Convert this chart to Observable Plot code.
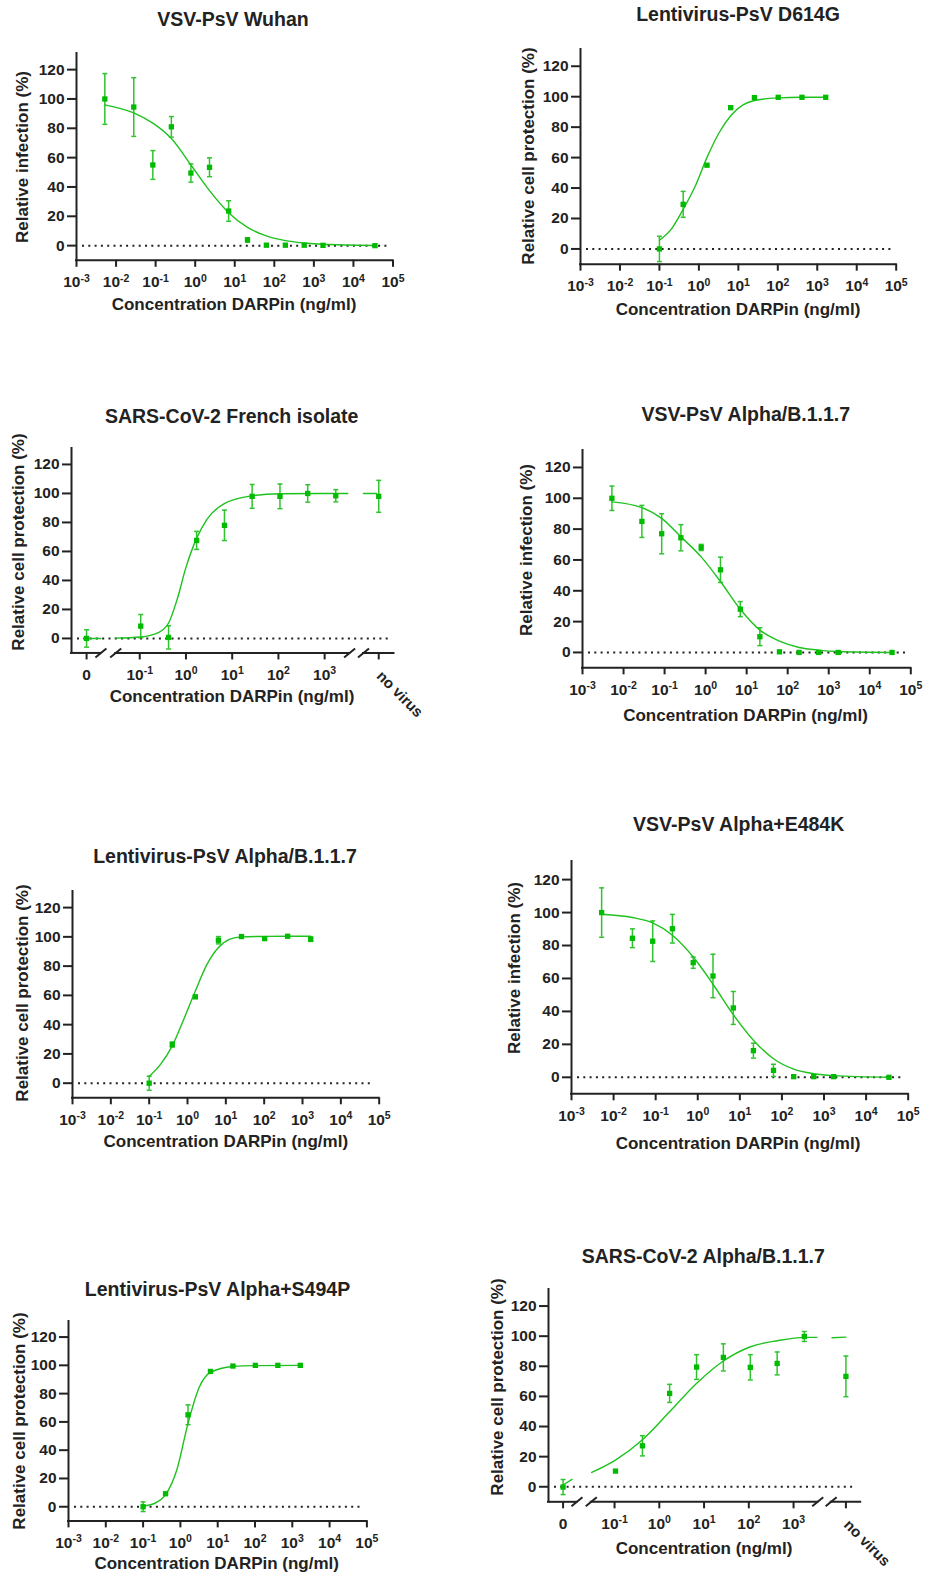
<!DOCTYPE html>
<html><head><meta charset="utf-8">
<script src="https://cdn.jsdelivr.net/npm/d3@7"></script>
<script src="https://cdn.jsdelivr.net/npm/@observablehq/plot@0.6"></script>
<style>
body{margin:0;background:#fff;}
#chart{position:relative;width:926px;height:1573px;font-family:"Liberation Sans",Arial,sans-serif;font-weight:bold;color:#222;overflow:hidden;}
.pn{position:absolute;}
.lbl{position:absolute;white-space:nowrap;line-height:1;transform:translate(-50%,-50%);}
.title{font-size:19.5px;}
.axl{font-size:17px;}
.ayl{font-size:17px;transform:translate(-50%,-50%) rotate(-90deg);}
</style></head><body><div id="chart"></div>
<script>
// ---------------- data ----------------
const vsvConc   = [0.0052, 0.028, 0.085, 0.25, 0.78, 2.3, 7.0, 21, 63, 190, 570, 1700, 35000];
const lentiConc = [0.1, 0.4, 1.6, 6.4, 25.6, 102.4, 409.6, 1638.4];
const sarsConc  = ["0", 0.105, 0.42, 1.7, 6.8, 27, 108, 430, 1740, "no virus"];

const wuhanMean = [100, 94.5, 55, 81, 49.5, 53.4, 23.6, 3.9, 0.3, 0.3, 0.3, 0.2, 0];
const wuhanSD   = [17.3, 20, 9.8, 7, 6.2, 6.4, 7, 1.5, 0, 0, 0, 0, 0];
const wuhanFit  = [96, 90.5, 83.5, 73, 55, 37.5, 22.5, 12.5, 6.6, 3.4, 1.8, 0.9, 0.1];

const d614gMean = [0, 29.3, 55, 92.8, 99.4, 99.6, 99.6, 99.6];
const d614gSD   = [8.3, 8.5, 0.6, 0.5, 0.5, 0, 0, 0];
const lentiFitConc = [0.1, 0.2, 0.4, 0.8, 1.6, 3.2, 6.4, 12.8, 25.6, 102.4, 409.6, 1638.4];
const d614gFit  = [5.7, 13, 26, 41, 60, 76, 87.5, 94.5, 97.5, 99.2, 99.6, 99.6];

const frenchMean = [0, 8.5, 0.7, 67.6, 78, 98, 98, 100, 98.4, 98];
const frenchSD   = [6, 8, 8, 6.2, 10.5, 8.2, 8.5, 6, 4.2, 11];
const frenchFitLog = [-2.15, -1.84, -1.53, -0.98, -0.6, -0.37, -0.19, 0.0, 0.23, 0.45, 0.83, 1.43, 2.03, 3.5, 3.84, 4.12];
const frenchFitVal = [0, 0, 0.2, 1, 4, 11, 27, 49, 69, 82, 93, 98.4, 99.8, 100, 100, 100];
const frenchFitSeg = [0, 0, 1, 1, 1, 1, 1, 1, 1, 1, 1, 1, 1, 1, 2, 2];

const vsvAlphaMean = [100, 85, 77, 74.4, 68.1, 53.6, 28.1, 10.2, 0.4, 0, 0, 0, 0];
const vsvAlphaSD   = [7.9, 10.4, 13, 8.5, 2, 8.2, 4.9, 5.8, 0, 0, 0, 0, 0];
const vsvAlphaFit  = [97.7, 94, 87, 75, 62, 46, 28, 14.5, 7.3, 3.2, 1.5, 0.6, 0];

const lentiAlphaMean = [0, 26.4, 59, 97.7, 100.2, 98.8, 100.4, 98.4];
const lentiAlphaSD   = [4.8, 1.7, 1, 2.5, 0.5, 1, 0.3, 1.5];
const lentiAlphaFit  = [4.6, 13, 25.5, 43.7, 63, 81, 92.7, 98.4, 100, 100.3, 100.4, 100.4];

const e484kMean = [100, 84.4, 82.6, 90.2, 69.6, 61.5, 42.1, 16.2, 4.2, 0.4, 0.4, 0.4, 0];
const e484kSD   = [15, 5.7, 12.3, 8.7, 3.4, 13.2, 10, 4.5, 3.7, 0, 0, 0, 0];
const e484kFit  = [99, 97, 93.7, 86.2, 73, 56.5, 38, 22.5, 11.3, 5, 2.2, 1, 0];

const s494pMean = [0, 9.2, 65, 95.7, 99.5, 100, 100, 100];
const s494pSD   = [3.4, 0.5, 7, 0.5, 0.3, 0, 0, 0];
const s494pFitConc = [0.1, 0.2, 0.4, 0.8, 1.6, 3.2, 6.4, 25.6, 102.4, 1638.4];
const s494pFit  = [0.5, 2.3, 8.5, 26, 59, 84.5, 95, 99.2, 99.8, 100];

const sarsAlphaMean = [-0.2, 10.4, 27.2, 62, 79.5, 85.9, 79.3, 81.9, 99.8, 73.3];
const sarsAlphaSD   = [5, 0.6, 6.7, 6, 8.2, 9, 8.4, 7.6, 3.3, 13.5];
const sarsAlphaFitLog = [-2.16, -1.95, -1.51, -0.98, -0.37, 0.23, 0.83, 1.44, 2.04, 2.64, 3.25, 3.52, 3.86, 4.17];
const sarsAlphaFitVal = [1.0, 4.9, 9.5, 17.7, 31.4, 49.8, 68.6, 83.7, 93, 97, 99.2, 99.2, 99, 99.4];
const sarsAlphaFitSeg = [0, 0, 1, 1, 1, 1, 1, 1, 1, 1, 1, 1, 2, 2];

// ticks
const yTicks = [0, 20, 40, 60, 80, 100, 120];
const logTicks = [1e-3, 1e-2, 1e-1, 1, 10, 100, 1000, 1e4, 1e5];
const logTickLabels = ["10^-3", "10^-2", "10^-1", "10^0", "10^1", "10^2", "10^3", "10^4", "10^5"];
const brokenTickLabels = ["0", "10^-1", "10^0", "10^1", "10^2", "10^3", "no virus"];

// labels
const titles = ["VSV-PsV Wuhan", "Lentivirus-PsV D614G", "SARS-CoV-2 French isolate", "VSV-PsV Alpha/B.1.1.7",
  "Lentivirus-PsV Alpha/B.1.1.7", "VSV-PsV Alpha+E484K", "Lentivirus-PsV Alpha+S494P", "SARS-CoV-2 Alpha/B.1.1.7"];
const yInf = "Relative infection (%)", yProt = "Relative cell protection (%)";
const xDarpin = "Concentration DARPin (ng/ml)", xPlain = "Concentration (ng/ml)";

// ---------------- scale definitions ----------------
const Y_DOMAIN = [-10, 131];
// broken axis: log10 positions of the "0" and "no virus" slots and of the break marks
const BROKEN = {domain: [-2.476, 4.5], zero: -2.15, noVirus: 4.17, breaks: [-1.84, -1.52, 3.54, 3.84]};
const brokenTicks = [BROKEN.zero, -1, 0, 1, 2, 3, BROKEN.noVirus];
const brokenPos = c => c === "0" ? BROKEN.zero : c === "no virus" ? BROKEN.noVirus : Math.log10(c);

const panels = [
  {title: titles[0], yl: yInf, xl: xDarpin, axis: "log", conc: vsvConc, mean: wuhanMean, sd: wuhanSD, fitX: vsvConc, fitY: wuhanFit},
  {title: titles[1], yl: yProt, xl: xDarpin, axis: "log", conc: lentiConc, mean: d614gMean, sd: d614gSD, fitX: lentiFitConc, fitY: d614gFit},
  {title: titles[2], yl: yProt, xl: xDarpin, axis: "broken", conc: sarsConc, mean: frenchMean, sd: frenchSD, fitX: frenchFitLog, fitY: frenchFitVal, fitZ: frenchFitSeg},
  {title: titles[3], yl: yInf, xl: xDarpin, axis: "log", conc: vsvConc, mean: vsvAlphaMean, sd: vsvAlphaSD, fitX: vsvConc, fitY: vsvAlphaFit},
  {title: titles[4], yl: yProt, xl: xDarpin, axis: "log", conc: lentiConc, mean: lentiAlphaMean, sd: lentiAlphaSD, fitX: lentiFitConc, fitY: lentiAlphaFit},
  {title: titles[5], yl: yInf, xl: xDarpin, axis: "log", conc: vsvConc, mean: e484kMean, sd: e484kSD, fitX: vsvConc, fitY: e484kFit},
  {title: titles[6], yl: yProt, xl: xDarpin, axis: "log", conc: lentiConc, mean: s494pMean, sd: s494pSD, fitX: s494pFitConc, fitY: s494pFit},
  {title: titles[7], yl: yProt, xl: xPlain, axis: "broken", conc: sarsConc, mean: sarsAlphaMean, sd: sarsAlphaSD, fitX: sarsAlphaFitLog, fitY: sarsAlphaFitVal, fitZ: sarsAlphaFitSeg}
];

// ---------------- layout (page pixels) ----------------
const layout = [
  {axisX: 76,    xEnd: 392.5, y0: 245,    y120: 69,     t: [233, 20.3],    yl: [22, 157],     xl: [234, 303.7]},
  {axisX: 580,   xEnd: 895.7, y0: 248,    y120: 65.3,   t: [738, 14.7],    yl: [527.8, 155.8],xl: [738, 308.5]},
  {axisX: 71,    xEnd: 393.5, y0: 638.3,  y120: 464.3,  t: [231.7, 417.3], yl: [17.8, 542.2], xl: [232, 696.3]},
  {axisX: 581.7, xEnd: 910,   y0: 652.3,  y120: 467.3,  t: [745.8, 415],   yl: [525.7, 550],  xl: [745.5, 715]},
  {axisX: 72.3,  xEnd: 379,   y0: 1082.3, y120: 906.7,  t: [225, 856.7],   yl: [21.5, 993.3], xl: [225.8, 1140.7]},
  {axisX: 571,   xEnd: 907.7, y0: 1077,   y120: 879.3,  t: [738.7, 825],   yl: [514.3, 967.7],xl: [738, 1143]},
  {axisX: 68.3,  xEnd: 366.7, y0: 1506.7, y120: 1337,   t: [217.5, 1290],  yl: [19, 1421.3],  xl: [216.7, 1563]},
  {axisX: 548.3, xEnd: 860.5, y0: 1486.7, y120: 1306,   t: [703.3, 1257.3],yl: [496.5, 1386.7],xl: [704, 1548.3]}
];

const GREEN = "#00bb00", CURVE = "#1ec21e", ERR = "#2fc42f", INK = "#222";
const FONT = "'Liberation Sans', Arial, sans-serif";
const slashSym = {draw(c) { c.moveTo(-5.5, 4.5); c.lineTo(5.5, -4.5); }};
const capSym = {draw(c) { c.moveTo(-2.5, 0); c.lineTo(2.5, 0); }};
const NS = "http://www.w3.org/2000/svg";

const chart = document.getElementById("chart");

function build(p, L) {
  const mL = 62, mR = 52, mT = 12, mB = 80;
  const ppu = (L.y0 - L.y120) / 120;
  const yTop = L.y0 - Y_DOMAIN[1] * ppu, yBot = L.y0 - Y_DOMAIN[0] * ppu;
  const W = L.xEnd - L.axisX + mL + mR, H = yBot - yTop + mT + mB;
  const broken = p.axis === "broken";
  const X = broken ? brokenPos : (c => c);
  const pts = p.conc.map((c, i) => ({x: X(c), m: p.mean[i], sd: p.sd[i]}));
  const errs = pts.filter(d => d.sd > 0);
  const caps = errs.flatMap(d => [{x: d.x, y: d.m - d.sd}, {x: d.x, y: d.m + d.sd}]);
  const fit = p.fitX.map((c, i) => ({x: c, y: p.fitY[i], z: p.fitZ ? p.fitZ[i] : 0}));

  const marks = [
    Plot.ruleY([0], {stroke: INK, strokeWidth: 2, strokeDasharray: "2,4.3", insetLeft: 6, insetRight: 5}),
    Plot.ruleX(errs, {x: "x", y1: d => d.m - d.sd, y2: d => d.m + d.sd, stroke: ERR, strokeWidth: 1.5}),
    Plot.dot(caps, {x: "x", y: "y", symbol: capSym, stroke: ERR, fill: "none", strokeWidth: 1.5}),
    Plot.line(fit, {x: "x", y: "y", z: "z", stroke: CURVE, strokeWidth: 1.4, curve: "monotone-x"}),
    Plot.dot(pts, {x: "x", y: "m", symbol: "square", r: 3, fill: GREEN, stroke: "none"}),
    Plot.axisY({ticks: yTicks, tickSize: 9, tickPadding: 3, strokeWidth: 2, fontSize: 15.5, fontWeight: "bold", label: null})
  ];
  if (broken) {
    const bl = new Map(brokenTicks.map((t, i) => [t, i === brokenTicks.length - 1 ? "" : brokenTickLabels[i]]));
    const segs = [[BROKEN.domain[0], BROKEN.breaks[0]], [BROKEN.breaks[1], BROKEN.breaks[2]], [BROKEN.breaks[3], BROKEN.domain[1]]];
    marks.push(
      Plot.ruleX([BROKEN.domain[0]], {y1: Y_DOMAIN[0], y2: Y_DOMAIN[1], stroke: INK, strokeWidth: 2, strokeLinecap: "square"}),
      Plot.ruleY(segs, {x1: d => d[0], x2: d => d[1], y: Y_DOMAIN[0], stroke: INK, strokeWidth: 2, strokeLinecap: "square"}),
      Plot.dot(BROKEN.breaks, {x: d => d, y: Y_DOMAIN[0], symbol: slashSym, stroke: INK, fill: "none", strokeWidth: 2}),
      Plot.axisX({ticks: brokenTicks, tickFormat: d => bl.get(d), tickSize: 7, tickPadding: 9, strokeWidth: 2, fontSize: 15.5, fontWeight: "bold", label: null}),
      Plot.text([brokenTickLabels[brokenTickLabels.length - 1]], {x: BROKEN.noVirus, y: Y_DOMAIN[0], text: d => d, rotate: 45, textAnchor: "start", lineAnchor: "bottom", dx: -3, dy: 24, fontSize: 15, fontWeight: "bold", fill: INK})
    );
  } else {
    marks.push(
      Plot.ruleX([logTicks[0]], {y1: Y_DOMAIN[0], y2: Y_DOMAIN[1], stroke: INK, strokeWidth: 2, strokeLinecap: "square"}),
      Plot.ruleY([Y_DOMAIN[0]], {stroke: INK, strokeWidth: 2, strokeLinecap: "square"}),
      Plot.axisX({ticks: logTicks, tickFormat: d => logTickLabels[logTicks.indexOf(d)], tickSize: 7, tickPadding: 9, strokeWidth: 2, fontSize: 15.5, fontWeight: "bold", label: null})
    );
  }

  const svg = Plot.plot({
    width: W, height: H, marginLeft: mL, marginRight: mR, marginTop: mT, marginBottom: mB,
    x: broken ? {type: "linear", domain: BROKEN.domain, label: null} : {type: "log", domain: [logTicks[0], logTicks[logTicks.length - 1]], label: null},
    y: {domain: Y_DOMAIN, label: null},
    style: {background: "transparent", overflow: "visible", color: INK, fontFamily: FONT, fontWeight: "bold"},
    marks
  });

  // superscript exponents on x tick labels
  svg.querySelectorAll('g[aria-label="x-axis tick label"] text').forEach(t => {
    const m = (t.textContent || "").match(/^10\^(.+)$/);
    if (m) {
      t.textContent = "10";
      const ts = document.createElementNS(NS, "tspan");
      ts.setAttribute("dy", "-5.5");
      ts.setAttribute("font-size", "10.5");
      ts.textContent = m[1];
      t.appendChild(ts);
    }
  });

  const wrap = document.createElement("div");
  wrap.className = "pn";
  wrap.style.left = (L.axisX - mL) + "px";
  wrap.style.top = (yTop - mT) + "px";
  wrap.style.width = W + "px";
  wrap.appendChild(svg);
  chart.appendChild(wrap);
}

function label(text, cls, at) {
  const d = document.createElement("div");
  d.className = "lbl " + cls;
  d.style.left = at[0] + "px";
  d.style.top = at[1] + "px";
  d.textContent = text;
  chart.appendChild(d);
}

panels.forEach((p, i) => build(p, layout[i]));
panels.forEach((p, i) => {
  label(p.title, "title", layout[i].t);
  label(p.yl, "ayl", layout[i].yl);
  label(p.xl, "axl", layout[i].xl);
});
</script></body></html>
